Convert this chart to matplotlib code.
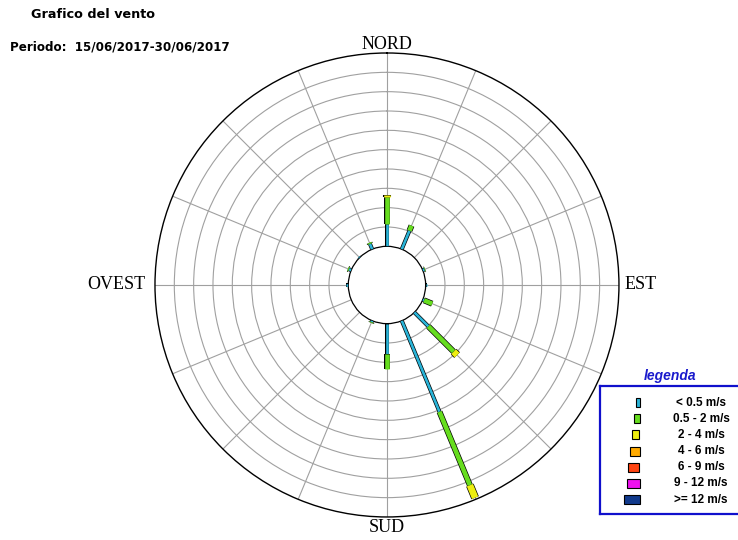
"""
Wind rose (Grafico del vento) for 15/06/2017-30/06/2017
"""

import numpy as np
import matplotlib.pyplot as plt
from matplotlib import patheffects as pe
from matplotlib.patches import Rectangle

# 16 sectors, clockwise from north
directions = ['N', 'NNE', 'NE', 'ENE', 'E', 'ESE', 'SE', 'SSE',
              'S', 'SSW', 'SW', 'WSW', 'W', 'WNW', 'NW', 'NNW']
dir_deg = [0, 22.5, 45, 67.5, 90, 112.5, 135, 157.5,
           180, 202.5, 225, 247.5, 270, 292.5, 315, 337.5]

# cardinal labels: (angle, text)
cardinal_deg = [0, 90, 180, 270]
cardinal_names = ['NORD', 'EST', 'SUD', 'OVEST']

speed_classes = ['< 0.5 m/s', '0.5 - 2 m/s', '2 - 4 m/s', '4 - 6 m/s',
                 '6 - 9 m/s', '9 - 12 m/s', '>= 12 m/s']
class_colors = ['#2ab4d8', '#66dd1e', '#eeee11', '#ffaa00',
                '#ff4411', '#ee11ee', '#113a8c']

# frequency per sector (ring units), one list per speed class
freq_lt_05 = [1.16, 1.04, 0.0, 0.10, 0.05, 0.08, 1.03, 5.10,
              1.57, 0.08, 0.0, 0.0, 0.10, 0.13, 0.05, 0.30]
freq_05_2 = [1.37, 0.28, 0.0, 0.03, 0.0, 0.45, 1.85, 4.11,
             0.79, 0.04, 0.0, 0.0, 0.0, 0.05, 0.0, 0.06]
freq_2_4 = [0.10, 0.0, 0.0, 0.0, 0.0, 0.0, 0.25, 0.70,
            0.0, 0.0, 0.0, 0.0, 0.0, 0.0, 0.0, 0.0]
freq_4_6 = [0.0, 0.0, 0.0, 0.0, 0.0, 0.0, 0.0, 0.0,
            0.0, 0.0, 0.0, 0.0, 0.0, 0.0, 0.0, 0.0]
freq_6_9 = [0.0, 0.0, 0.0, 0.0, 0.0, 0.0, 0.0, 0.0,
            0.0, 0.0, 0.0, 0.0, 0.0, 0.0, 0.0, 0.0]
freq_9_12 = [0.0, 0.0, 0.0, 0.0, 0.0, 0.0, 0.0, 0.0,
             0.0, 0.0, 0.0, 0.0, 0.0, 0.0, 0.0, 0.0]
freq_ge_12 = [0.0, 0.0, 0.0, 0.0, 0.0, 0.0, 0.0, 0.0,
              0.0, 0.0, 0.0, 0.0, 0.0, 0.0, 0.0, 0.0]
class_series = [freq_lt_05, freq_05_2, freq_2_4, freq_4_6,
                freq_6_9, freq_9_12, freq_ge_12]

ring_ticks = [1, 2, 3, 4, 5, 6, 7, 8, 9]

# bar thickness per class (points), wider for stronger winds
bar_lw = [2.9, 4.3, 5.8, 7.2, 8.6, 10.0, 12.2]

fig = plt.figure(figsize=(7.38, 5.40), dpi=100)

# --- rose ---
ax = fig.add_axes([0.2100, 0.0426, 0.6287, 0.8593], projection='polar')
ax.set_theta_zero_location('N')
ax.set_theta_direction(-1)
ax.set_rorigin(-2.0)
ax.set_ylim(0, 10)
ax.set_yticks(ring_ticks)
ax.set_yticklabels([])
ax.set_thetagrids(dir_deg, labels=[''] * len(dir_deg))
ax.grid(True, color='#a0a0a0', linewidth=0.8)
ax.spines['polar'].set_color('black')
ax.spines['polar'].set_linewidth(1.0)
ax.spines['inner'].set_color('black')
ax.spines['inner'].set_linewidth(0.9)

# label placement around the outer ring
label_r = [10.22, 10.28, 10.12, 10.5]
label_ha = ['center', 'left', 'center', 'right']
label_va = ['baseline', 'center', 'top', 'center']
for deg, name, r, ha, va in zip(cardinal_deg, cardinal_names, label_r, label_ha, label_va):
    ax.text(np.deg2rad(deg), r, name, fontfamily='Liberation Serif', fontsize=13,
            ha=ha, va=va, clip_on=False)

cum = np.zeros(len(directions))
for k, series in enumerate(class_series):
    for i, val in enumerate(series):
        if val <= 0:
            continue
        th = np.deg2rad(dir_deg[i])
        ax.plot([th, th], [cum[i], cum[i] + val], color=class_colors[k],
                lw=bar_lw[k] - 1.0, solid_capstyle='butt', zorder=3 + k,
                path_effects=[pe.Stroke(linewidth=bar_lw[k], foreground='black'),
                              pe.Normal()])
    cum += np.array(series)

# --- titles ---
fig.text(31 / 738, 1 - 15 / 540, 'Grafico del vento', fontsize=9.2,
         fontweight='bold', va='center', ha='left')
fig.text(10 / 738, 1 - 47 / 540, 'Periodo:  15/06/2017-30/06/2017', fontsize=8.6,
         fontweight='bold', va='center', ha='left')

# --- legend box ---
lax = fig.add_axes([600 / 738, 1 - 514 / 540, 140 / 738, 128 / 540])
lax.set_xlim(0, 140)
lax.set_ylim(128, 0)
lax.set_xticks([])
lax.set_yticks([])
for s in lax.spines.values():
    s.set_color('#1010cc')
    s.set_linewidth(1.6)

for k, label in enumerate(speed_classes):
    y = 16.5 + 16.2 * k
    w = bar_lw[k] * 1.3
    lax.add_patch(Rectangle((39.5 - w, y - 4.5), w, 9, facecolor=class_colors[k],
                            edgecolor='black', linewidth=0.8))
    lax.text(101, y, label, fontsize=8.5, fontweight='bold', family='Liberation Sans',
             ha='center', va='center')

fig.text(670 / 738, 1 - 376 / 540, 'legenda', fontsize=10, fontweight='bold',
         style='italic', family='Liberation Sans', color='#1a1acc',
         ha='center', va='center')

plt.savefig('out.png', dpi=100)
